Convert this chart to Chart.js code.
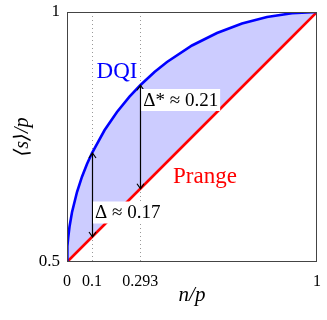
<!DOCTYPE html>
<html>
<head>
<meta charset="utf-8">
<script src="https://cdn.jsdelivr.net/npm/chart.js@4.4.0/dist/chart.umd.min.js"></script>
<style>
  html, body { margin: 0; padding: 0; background: #fff; }
  #wrap { width: 327px; height: 320px; }
</style>
</head>
<body>
<div id="wrap"><canvas id="chart" width="327" height="320"></canvas></div>
<script>
// values
const curveX = [0, 0.001, 0.002, 0.005, 0.01, 0.02, 0.04, 0.06, 0.08, 0.1, 0.15, 0.2, 0.25, 0.293, 0.35, 0.4, 0.5, 0.6, 0.7, 0.8, 0.9, 1];
const dqiY = [0.5, 0.522, 0.532, 0.550, 0.5705, 0.5995, 0.640, 0.6706, 0.696, 0.718, 0.7634, 0.800, 0.8307, 0.8535, 0.880, 0.900, 0.933, 0.958, 0.977, 0.990, 0.9975, 1];
const prangeY = [0.5, 0.5005, 0.501, 0.5025, 0.505, 0.51, 0.52, 0.53, 0.54, 0.55, 0.575, 0.60, 0.625, 0.6465, 0.675, 0.70, 0.75, 0.80, 0.85, 0.90, 0.95, 1];

const xTicks = [0, 0.1, 0.293, 1];
const xTickLabels = ['0', '0.1', '0.293', '1'];
const yTicks = [0.5, 1];
const yTickLabels = ['0.5', '1'];
const guideX = [0.1, 0.293];

// gap arrows: x, top (DQI), bottom (Prange)
const gapX = [0.1, 0.293];
const gapTop = [0.718, 0.8535];
const gapBottom = [0.55, 0.6465];
const gapLabels = ['\u0394 \u2248 0.17', '\u0394* \u2248 0.21'];

const serif = '"Liberation Serif", "DejaVu Serif", serif';

const toPoints = (xs, ys) => xs.map((x, i) => ({x: x, y: ys[i]}));

const extras = {
  id: 'extras',
  afterDatasetsDraw(chart) {
    const {ctx, chartArea: a, scales: {x, y}} = chart;
    ctx.save();
    // frame
    ctx.strokeStyle = '#444';
    ctx.lineWidth = 1;
    ctx.strokeRect(a.left + 0.5, a.top + 0.5, a.right - a.left - 1, a.bottom - a.top - 1);

    // arrows
    ctx.strokeStyle = '#000';
    ctx.lineWidth = 1.2;
    gapX.forEach((gx, i) => {
      const px = Math.round(x.getPixelForValue(gx)) + 0.5;
      const t = y.getPixelForValue(gapTop[i]);
      const b = y.getPixelForValue(gapBottom[i]);
      ctx.beginPath();
      ctx.moveTo(px, t);
      ctx.lineTo(px, b);
      ctx.moveTo(px - 3.5, t + 5);
      ctx.lineTo(px, t);
      ctx.lineTo(px + 3.5, t + 5);
      ctx.moveTo(px - 3.5, b - 5);
      ctx.lineTo(px, b);
      ctx.lineTo(px + 3.5, b - 5);
      ctx.stroke();
    });

    // labels with white boxes
    ctx.font = '19px ' + serif;
    ctx.textBaseline = 'middle';
    ctx.textAlign = 'left';
    const boxes = [
      {text: gapLabels[0], x: 0.1, y: 0.599},
      {text: gapLabels[1], x: 0.293, y: 0.824}
    ];
    boxes.forEach((bx) => {
      const px = x.getPixelForValue(bx.x) + 1;
      const py = y.getPixelForValue(bx.y);
      const w = ctx.measureText(bx.text).width + 4;
      ctx.fillStyle = '#fff';
      ctx.fillRect(px, py - 11, w, 22);
      ctx.fillStyle = '#000';
      ctx.fillText(bx.text, px + 2, py + 1);
    });

    ctx.font = '23px ' + serif;
    ctx.textAlign = 'center';
    ctx.fillStyle = '#0000ff';
    ctx.fillText('DQI', x.getPixelForValue(0.2), y.getPixelForValue(0.88));
    ctx.fillStyle = '#ff0000';
    ctx.fillText('Prange', x.getPixelForValue(0.552), y.getPixelForValue(0.67));
    ctx.restore();
  }
};

new Chart(document.getElementById('chart'), {
  type: 'scatter',
  data: {
    datasets: [
      {
        label: 'DQI',
        data: toPoints(curveX, dqiY),
        showLine: true,
        borderColor: '#0000ff',
        borderWidth: 2.6,
        pointRadius: 0,
        tension: 0,
        fill: {target: 1},
        backgroundColor: 'rgba(204,204,255,1)'
      },
      {
        label: 'Prange',
        data: toPoints(curveX, prangeY),
        showLine: true,
        borderColor: '#ff0000',
        borderWidth: 2.6,
        pointRadius: 0,
        fill: false
      }
    ]
  },
  options: {
    responsive: false,
    animation: false,
    layout: {padding: {left: 0, right: 10, top: 12, bottom: 0}},
    plugins: {
      legend: {display: false},
      tooltip: {enabled: false},
      filler: {drawTime: 'beforeDatasetsDraw'}
    },
    scales: {
      x: {
        type: 'linear',
        min: 0,
        max: 1,
        afterBuildTicks: (s) => { s.ticks = xTicks.map((v) => ({value: v})); },
        afterFit: (s) => { s.height = 58; s.paddingLeft = 0; s.paddingRight = 0; },
        ticks: {
          autoSkip: false,
          maxRotation: 0,
          padding: 10,
          color: '#000',
          font: {family: serif, size: 16},
          callback: (v) => xTickLabels[xTicks.indexOf(v)]
        },
        grid: {
          drawTicks: false,
          color: (c) => (guideX.includes(c.tick && c.tick.value) ? '#999' : 'transparent'),
          lineWidth: 1
        },
        border: {display: false, dash: [1, 3]},
        title: {
          display: true,
          text: 'n/p',
          color: '#000',
          font: {family: serif, size: 21, style: 'italic'},
          padding: {top: 0, bottom: 12}
        }
      },
      y: {
        type: 'linear',
        min: 0.5,
        max: 1,
        afterBuildTicks: (s) => { s.ticks = yTicks.map((v) => ({value: v})); },
        afterFit: (s) => { s.width = 67; s.paddingTop = 0; s.paddingBottom = 0; },
        ticks: {
          padding: 7,
          color: '#000',
          font: {family: serif, size: 17},
          callback: (v) => yTickLabels[yTicks.indexOf(v)]
        },
        grid: {display: false, drawTicks: false},
        border: {display: false},
        title: {
          display: true,
          text: '\u27e8s\u27e9/p',
          color: '#000',
          font: {family: serif, size: 20, style: 'italic'},
          padding: {top: 11, bottom: 0}
        }
      }
    }
  },
  plugins: [extras]
});
</script>
</body>
</html>
